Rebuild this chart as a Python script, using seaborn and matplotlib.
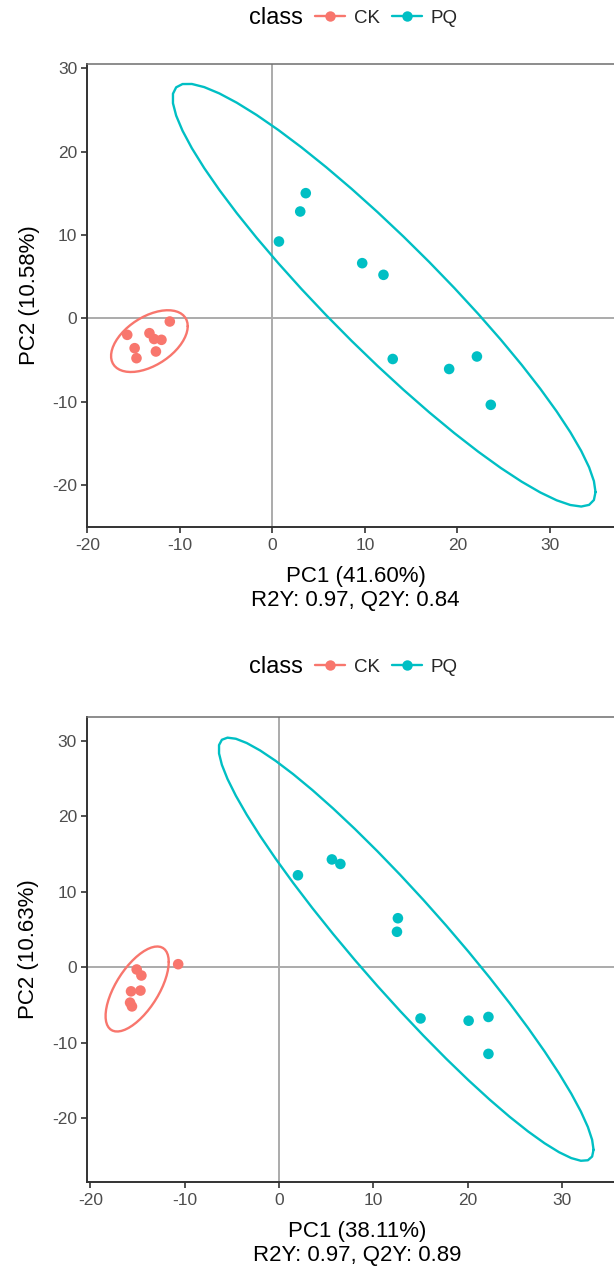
import numpy as np
import pandas as pd
import matplotlib
matplotlib.use("Agg")
import matplotlib.pyplot as plt
from matplotlib.lines import Line2D
import seaborn as sns

# ---------------- data ----------------
classes = ["CK", "PQ"]
colors = ["#F8766D", "#00BFC4"]

# Top panel
top_ck_x = [-15.7, -14.9, -14.7, -13.3, -12.8, -12.0, -12.6, -11.1]
top_ck_y = [-2.0, -3.6, -4.8, -1.8, -2.5, -2.6, -4.0, -0.4]
top_pq_x = [3.6, 3.0, 0.7, 9.7, 12.0, 13.0, 19.1, 22.1, 23.6]
top_pq_y = [15.0, 12.8, 9.2, 6.6, 5.2, -4.9, -6.1, -4.6, -10.4]
top_xlabel = "PC1 (41.60%)\nR2Y: 0.97, Q2Y: 0.84"
top_ylabel = "PC2 (10.58%)"

# Bottom panel
bot_ck_x = [-10.7, -15.1, -14.6, -15.7, -14.7, -15.8, -15.6]
bot_ck_y = [0.4, -0.3, -1.1, -3.2, -3.1, -4.7, -5.2]
bot_pq_x = [2.0, 5.6, 6.5, 12.6, 12.5, 15.0, 20.1, 22.2, 22.2]
bot_pq_y = [12.2, 14.3, 13.7, 6.5, 4.7, -6.8, -7.1, -6.6, -11.5]
bot_xlabel = "PC1 (38.11%)\nR2Y: 0.97, Q2Y: 0.89"
bot_ylabel = "PC2 (10.63%)"

x_ticks = [-20, -10, 0, 10, 20, 30]
y_ticks = [-20, -10, 0, 10, 20, 30]


# ---------------- stat_ellipse (type = "t", level = 0.95) ----------------
def cov_trob(X, nu=5, maxit=25, tol=0.01):
    n, p = X.shape
    wt = np.ones(n)
    loc = X.mean(axis=0)
    w = np.sqrt(wt)
    Xc = X - loc
    for _ in range(maxit):
        w0 = w
        Xc = X - loc
        sw = np.sqrt(w / w.sum())[:, None]
        _, d, vt = np.linalg.svd(sw * Xc, full_matrices=False)
        wX = Xc @ vt.T @ np.diag(1.0 / d)
        Q = (wX ** 2).sum(axis=1)
        w = (wt * (nu + p)) / (nu + Q)
        loc = (w[:, None] * X).sum(axis=0) / w.sum()
        if np.all(np.abs(w - w0) < tol):
            break
    sX = np.sqrt(w)[:, None] * Xc
    cov = sX.T @ sX / wt.sum()
    return cov, loc


def ellipse_path(x, y, level=0.95, segments=51):
    X = np.column_stack([x, y]).astype(float)
    cov, center = cov_trob(X)
    dfn, dfd = 2, len(x) - 1
    fq = (dfd / 2.0) * ((1 - level) ** (-2.0 / dfd) - 1)  # qf(level, 2, dfd)
    radius = np.sqrt(dfn * fq)
    ang = np.linspace(0, 2 * np.pi, segments + 1)
    unit = np.column_stack([np.cos(ang), np.sin(ang)])
    R = np.linalg.cholesky(cov).T
    pts = center + radius * (unit @ R)
    return pts[:, 0], pts[:, 1]


# ---------------- figure ----------------
sns.set_theme(style="white")
plt.rcParams["font.family"] = ["Liberation Sans", "DejaVu Sans"]

W, H = 614, 1266
fig = plt.figure(figsize=(W / 100, H / 100), dpi=100)


def px_axes(left, top, right, bottom):
    return fig.add_axes([left / W, 1 - bottom / H, (right - left) / W, (bottom - top) / H])


panels = [
    dict(ck=(top_ck_x, top_ck_y), pq=(top_pq_x, top_pq_y), xl=top_xlabel, yl=top_ylabel,
         box=(87, 64, 624, 527), xlim=(-20.05, 38.0), ylim=(-25.06, 30.5), leg_y=18),
    dict(ck=(bot_ck_x, bot_ck_y), pq=(bot_pq_x, bot_pq_y), xl=bot_xlabel, yl=bot_ylabel,
         box=(86.7, 717, 628, 1182), xlim=(-20.4, 37.0), ylim=(-28.5, 33.2), leg_y=667),
]

for p in panels:
    ax = px_axes(*p["box"])
    df = pd.DataFrame({
        "x": list(p["ck"][0]) + list(p["pq"][0]),
        "y": list(p["ck"][1]) + list(p["pq"][1]),
        "class": ["CK"] * len(p["ck"][0]) + ["PQ"] * len(p["pq"][0]),
    })
    ax.axhline(0, color="#ABABAB", lw=1.4, zorder=1)
    ax.axvline(0, color="#ABABAB", lw=1.4, zorder=1)
    sns.scatterplot(data=df, x="x", y="y", hue="class", hue_order=classes,
                    palette=colors, s=58, edgecolor="none", legend=False, ax=ax, zorder=3)
    for cls, col in zip(classes, colors):
        sub = df[df["class"] == cls]
        ex, ey = ellipse_path(sub["x"].values, sub["y"].values)
        ax.plot(ex, ey, color=col, lw=1.7, zorder=2)

    ax.set_xlim(*p["xlim"])
    ax.set_ylim(*p["ylim"])
    ax.set_xticks(x_ticks)
    ax.set_yticks(y_ticks)
    ax.set_xticklabels([str(t) for t in x_ticks])
    ax.set_yticklabels([str(t) for t in y_ticks])
    ax.tick_params(axis="both", direction="out", length=4, width=1.2, color="#333333",
                   labelsize=12.5, labelcolor="#4D4D4D", bottom=True, left=True)
    ax.tick_params(axis="x", pad=4)
    ax.tick_params(axis="y", pad=3)
    ax.set_xlabel(p["xl"], fontsize=16, color="black", labelpad=9, linespacing=1.2)
    ax.set_ylabel(p["yl"], fontsize=16, color="black", labelpad=9)
    for side in ["left", "bottom"]:
        ax.spines[side].set_color("#333333")
        ax.spines[side].set_linewidth(1.4)
    ax.spines["top"].set_color("#6E6E6E")
    ax.spines["top"].set_linewidth(1.1)
    ax.spines["right"].set_visible(False)
    ax.grid(False)

    # legend ("class" title on the left, entries to the right)
    ly = 1 - p["leg_y"] / H
    fig.text(303 / W, ly, "class", ha="right", va="center", fontsize=17, color="black")
    handles = [Line2D([0], [0], color=c, lw=1.7, marker="o", markersize=7.5, markeredgewidth=0)
               for c in colors]
    fig.legend(handles, classes, loc="center left", bbox_to_anchor=(315 / W, ly),
               ncol=2, frameon=False, fontsize=13.5, handlelength=1.6, handletextpad=0.5,
               columnspacing=0.6, borderaxespad=0, borderpad=0)

fig.savefig("out.png", dpi=100)
